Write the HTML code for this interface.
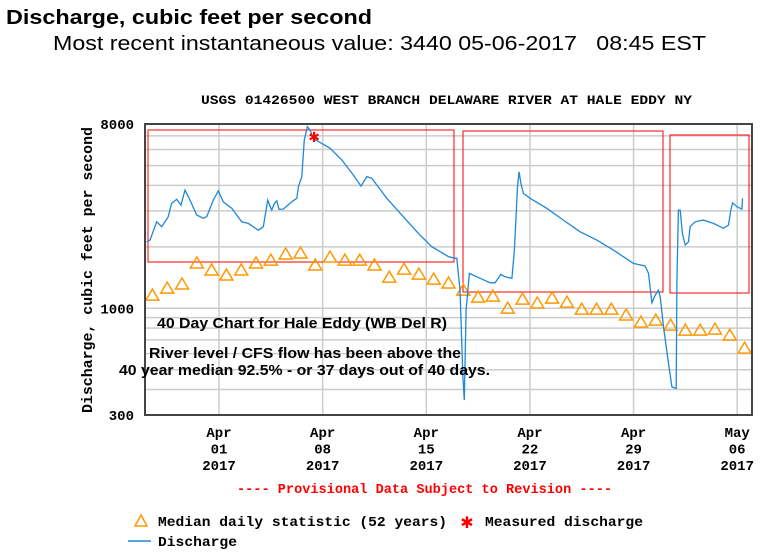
<!DOCTYPE html>
<html><head><meta charset="utf-8"><style>
body{margin:0;background:#fff;width:766px;height:554px;overflow:hidden}
svg{display:block}
.mono{font-family:"Liberation Mono",monospace;font-weight:bold}
.sans{font-family:"Liberation Sans",sans-serif}
text{white-space:pre}
</style></head><body>
<svg id="c" width="766" height="554" xmlns="http://www.w3.org/2000/svg">
<text x="6" y="24" class="sans" font-size="20" font-weight="bold" textLength="366" lengthAdjust="spacingAndGlyphs">Discharge, cubic feet per second</text>
<text x="53" y="50" class="sans" font-size="20" textLength="653" lengthAdjust="spacingAndGlyphs">Most recent instantaneous value: 3440 05-06-2017   08:45 EST</text>
<text x="201" y="104" class="mono" font-size="13" textLength="491" lengthAdjust="spacingAndGlyphs">USGS 01426500 WEST BRANCH DELAWARE RIVER AT HALE EDDY NY</text>
<g id="grid"></g>
<g id="ann">
<rect x="148" y="130" width="306" height="132" fill="none" stroke="#f00" stroke-width="1"/>
<rect x="463" y="131" width="200" height="161" fill="none" stroke="#f00" stroke-width="1"/>
<rect x="670" y="135" width="79" height="158" fill="none" stroke="#f00" stroke-width="1"/>
</g>
<g id="marks"></g>
<rect x="145" y="124" width="607" height="291" fill="none" stroke="#444" stroke-width="2"/>
<g class="sans" font-size="15" font-weight="bold">
<text x="157" y="328" textLength="290" lengthAdjust="spacingAndGlyphs">40 Day Chart for Hale Eddy (WB Del R)</text>
<text x="149" y="358" textLength="312" lengthAdjust="spacingAndGlyphs">River level / CFS flow has been above the</text>
<text x="119" y="375" textLength="371" lengthAdjust="spacingAndGlyphs">40 year median 92.5% - or 37 days out of 40 days.</text>
</g>
<text transform="translate(92,270) rotate(-90)" class="mono" font-size="14.5" text-anchor="middle" textLength="286" lengthAdjust="spacingAndGlyphs">Discharge, cubic feet per second</text>
<g id="ylab" class="mono" font-size="14" text-anchor="end"></g>
<g id="xlab" class="mono" font-size="14" text-anchor="middle"></g>
<text x="237" y="493" class="mono" font-size="14" fill="#f00" textLength="375" lengthAdjust="spacingAndGlyphs">---- Provisional Data Subject to Revision ----</text>
<g>
<polygon points="141,515 135,526 147,526" fill="none" stroke="#f90" stroke-width="1.5"/>
<text x="158" y="526" class="mono" font-size="14" textLength="289" lengthAdjust="spacingAndGlyphs">Median daily statistic (52 years)</text>
<text x="467" y="528" font-family="DejaVu Sans" font-size="16" fill="#f00" text-anchor="middle">✱</text>
<text x="485" y="526" class="mono" font-size="14" textLength="158" lengthAdjust="spacingAndGlyphs">Measured discharge</text>
<line x1="128" y1="541" x2="151" y2="541" stroke="#1f88d8" stroke-width="1.5"/>
<text x="158" y="546" class="mono" font-size="14" textLength="79" lengthAdjust="spacingAndGlyphs">Discharge</text>
</g>
</svg>
<script>
const yTicks=[300,1000,8000];
const gridVals=[300,400,500,600,700,800,900,1000,2000,3000,4000,5000,6000,7000,8000];
const xTickDays=[5,12,19,26,33,40];
const xTickMon=["Apr","Apr","Apr","Apr","Apr","May"];
const xTickDay=["01","08","15","22","29","06"];
const medianValues=[1161,1256,1315,1667,1540,1455,1540,1667,1722,1845,1866,1631,1783,1722,1722,1631,1422,1556,1471,1390,1330,1228,1135,1148,1002,1109,1061,1122,1072,990,990,990,927,856,875,827,782,782,791,739,638];
const flowDays=[0.11,0.34,0.79,1.13,1.57,1.80,2.14,2.43,2.70,3.04,3.49,3.94,4.17,4.61,4.95,5.29,5.86,6.53,6.98,7.66,7.99,8.29,8.56,8.74,8.90,9.05,9.34,9.91,10.25,10.36,10.59,10.76,10.97,11.15,11.37,11.82,12.50,13.29,14.07,14.59,14.98,15.32,16.33,17.45,18.47,19.37,20.49,20.95,21.06,21.28,21.47,21.57,21.69,21.91,22.64,23.31,23.65,24.03,24.32,24.78,24.95,25.16,25.27,25.39,25.56,26.01,27.14,28.26,29.39,30.52,31.64,32.99,33.78,34.01,34.24,34.46,34.68,34.80,35.02,35.36,35.59,35.88,35.93,36.03,36.15,36.30,36.49,36.71,36.82,37.16,37.72,38.40,39.07,39.41,39.57,39.68,39.98,40.32,40.36];
const flowValues=[2118,2158,2655,2512,2812,3266,3420,3206,3793,3388,2864,2761,2812,3388,3767,3327,3090,2655,2606,2415,2512,3388,3027,3266,3365,3055,3062,3327,3459,3945,4416,6683,7762,7482,6808,6501,6081,5333,4498,3972,4416,4335,3459,2812,2328,2004,1791,1758,1758,1227,461,355,980,1483,1403,1334,1334,1466,1426,1403,1928,3945,4667,4093,3656,3459,3090,2704,2371,2158,1928,1660,1611,1483,1064,1161,1227,1138,811,537,412,405,1324,3027,3027,2328,2042,2118,2512,2655,2704,2606,2466,2559,3027,3289,3148,3062,3459];
const measuredDay=[11.42];
const measuredValue=[6900];

const X0=145,X1=752,Y0=124,Y1=415,D0=0,D1=41,VMIN=300,VMAX=8000;
const xs=d=>X0+(d-D0)/(D1-D0)*(X1-X0);
const ys=v=>Y0+(Math.log10(VMAX)-Math.log10(v))/(Math.log10(VMAX)-Math.log10(VMIN))*(Y1-Y0);
const NS="http://www.w3.org/2000/svg";
function mk(tag,attrs,parent){const e=document.createElementNS(NS,tag);for(const k in attrs)e.setAttribute(k,attrs[k]);parent.appendChild(e);return e;}
const grid=document.getElementById('grid'),marks=document.getElementById('marks');
gridVals.forEach(v=>{const l=mk('line',{x1:X0,x2:X1,y1:ys(v),y2:ys(v),stroke:'#ccc','stroke-width':1.5},grid);

});
xTickDays.forEach((d,i)=>{const l=mk('line',{x1:xs(d),x2:xs(d),y1:Y0,y2:Y1,stroke:'#ccc','stroke-width':1.5},grid);


const g=document.getElementById('xlab');
[xTickMon[i],xTickDay[i],"2017"].forEach((s,j)=>{const t=mk('text',{x:xs(d),y:437+j*16.5},g);t.textContent=s;

});});
yTicks.forEach(v=>{const t=mk('text',{x:134,y:ys(v)+5},document.getElementById('ylab'));t.textContent=v;

});
medianValues.forEach((v,i)=>{const cx=xs(i+0.5),cy=ys(v);
const p=mk('polygon',{points:`${cx},${cy-6} ${cx-6.5},${cy+5} ${cx+6.5},${cy+5}`,fill:'none',stroke:'#f90','stroke-width':1.5},marks);

});
const path=mk('polyline',{points:flowDays.map((d,i)=>xs(d).toFixed(1)+','+ys(flowValues[i]).toFixed(1)).join(' '),fill:'none',stroke:'#1f88d8','stroke-width':1.3},marks);


measuredDay.forEach((d,i)=>{const t=mk('text',{x:xs(d),y:ys(measuredValue[i])+5,'text-anchor':'middle','font-family':'DejaVu Sans','font-size':14,fill:'#f00'},marks);t.textContent='✱';

});
</script>
</body></html>
